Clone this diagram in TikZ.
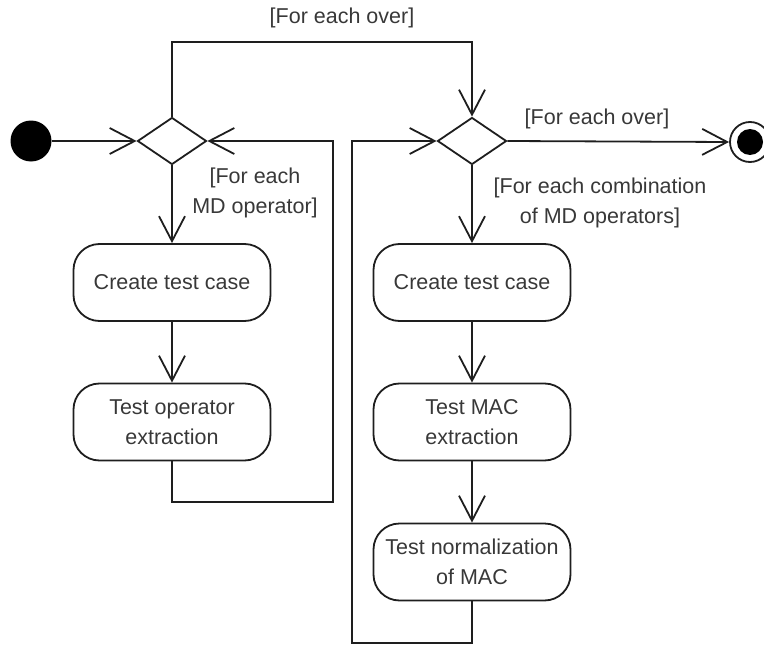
\documentclass[tikz,border=0pt]{standalone}
\usepackage{fontspec}
\setmainfont{Liberation Sans}
\usetikzlibrary{shapes.geometric,arrows.meta}
\definecolor{linegray}{HTML}{1E1E1E}
\definecolor{textgray}{HTML}{383838}
\begin{document}
\begin{tikzpicture}[x=1pt,y=-1pt,
  font=\fontsize{21.5}{30}\selectfont,
  flow/.style={draw=linegray,line width=1.8pt,
    -{Straight Barb[length=25pt,width=26pt,line width=1.8pt]}},
  action/.style={draw=linegray,line width=1.8pt,rectangle,rounded corners=26pt,
    minimum width=197pt,minimum height=77pt,inner sep=0pt,align=center,text=textgray},
  decision/.style={draw=linegray,line width=1.8pt,diamond,aspect=1.47,
    minimum width=69pt,minimum height=47pt,inner sep=0pt},
  guard/.style={text=textgray,align=center,inner sep=0pt}]
\useasboundingbox (0,0) rectangle (764,645);

% initial and final nodes
\node[circle,fill=black,minimum size=41pt,inner sep=0pt] (start) at (31,141) {};
\node[circle,draw=linegray,line width=1.8pt,minimum size=40pt,inner sep=0pt] (final) at (750,142) {};
\node[circle,fill=black,minimum size=26pt,inner sep=0pt] (finaldot) at (750,142) {};

% decisions
\node[decision] (d1) at (172,141) {};
\node[decision] (d2) at (472,141) {};

% actions, left branch
\node[action] (c1) at (172,282.5) {Create test case};
\node[action] (t1) at (172,422) {Test operator\\extraction};

% actions, right branch
\node[action] (c2) at (472,282.5) {Create test case};
\node[action] (t2) at (472,422) {Test MAC\\extraction};
\node[action] (n2) at (472,562) {Test normalization\\of MAC};

% loop corners
\coordinate (lp1) at (333,502);
\coordinate (lp2) at (352,643);
\coordinate (topA) at (172,42);
\coordinate (topB) at (472,42);

% flows
\draw[flow] (start) -- (d1.west);
\draw[flow] (d1.south) -- (c1.north);
\draw[flow] (c1) -- (t1);
\draw[flow] (t1.south) |- (lp1) |- (d1.east);
\draw[flow] (d1.north) -- (topA) -- (topB) -- (d2.north);
\draw[flow] (d2.east) -- (final.west);
\draw[flow] (d2.south) -- (c2.north);
\draw[flow] (c2) -- (t2);
\draw[flow] (t2) -- (n2);
\draw[flow] (n2.south) |- (lp2) |- (d2.west);

% guards
\node[guard] (g1) at (342,18) {[For each over]};
\node[guard] (g2) at (255,193) {[For each\\MD operator]};
\node[guard] (g3) at (597,119) {[For each over]};
\node[guard] (g4) at (600,203) {[For each combination\\of MD operators]};
\end{tikzpicture}
\end{document}
